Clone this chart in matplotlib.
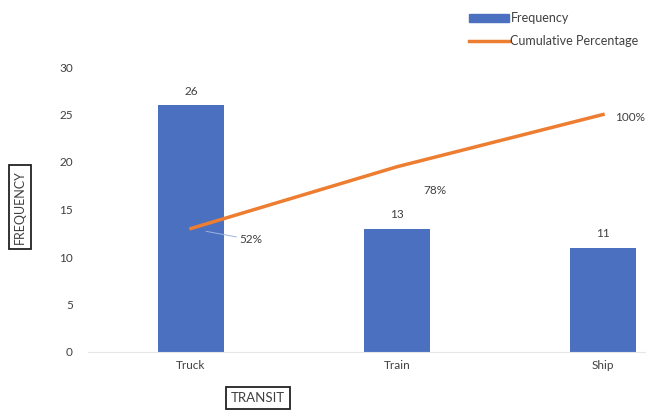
import matplotlib
matplotlib.use("Agg")
import matplotlib.pyplot as plt
from matplotlib.lines import Line2D
from matplotlib.patches import Patch

categories = ["Truck", "Train", "Ship"]
frequency = [26, 13, 11]
cum_percent = [52, 78, 100]
yticks = [0, 5, 10, 15, 20, 25, 30]

blue = "#4a70bf"
orange = "#ed7d31"
txt = "#404040"

plt.rcParams["font.family"] = ["Lato", "DejaVu Sans"]

fig = plt.figure(figsize=(6.46, 4.12), dpi=100)
# axes run past the right edge, the reference is cropped there
ax = fig.add_axes([88 / 646, 60 / 412, 618 / 646, 285 / 412])
x = list(range(len(categories)))
ax.bar(x, frequency, width=0.32, color=blue, zorder=2)
ax.set_xlim(-0.5, 2.5)
ax.set_ylim(0, 30)
ax.set_yticks(yticks)
ax.set_xticks(x)
ax.set_xticklabels(categories)
ax.tick_params(length=0, labelsize=8.5, labelcolor=txt)
ax.tick_params(axis="y", pad=11)
ax.tick_params(axis="x", pad=6)
for s in ["top", "right", "left"]:
    ax.spines[s].set_visible(False)
ax.spines["bottom"].set_color("#e6e6e6")

for xi, v in zip(x, frequency):
    ax.annotate(str(v), (xi, v), xytext=(0, 6), textcoords="offset points",
                ha="center", va="bottom", fontsize=8.5, color=txt)

# cumulative percentage on a hidden 0-120 axis
ax2 = ax.twinx()
ax2.set_ylim(0, 120)
ax2.axis("off")
ax2.plot(x, cum_percent, color=orange, lw=2.5, zorder=3)

label_offsets = [(43, -8), (27, -17), (9, -2)]
for xi, p, off in zip(x, cum_percent, label_offsets):
    ax2.annotate(f"{p}%", (xi, p), xytext=off, textcoords="offset points",
                 ha="left" if xi == 2 else "center", va="center",
                 fontsize=8.5, color=txt,
                 arrowprops=dict(arrowstyle="-", color="#9db3e0", lw=0.7,
                                 shrinkA=0, shrinkB=11) if xi == 0 else None)

box = dict(boxstyle="square,pad=0.4", fc="white", ec="#222222", lw=1.3)
fig.text(20 / 646, 1 - 207 / 412, "FREQUENCY", rotation=90, ha="center",
         va="center", fontsize=9, color=txt, bbox=box)
fig.text(258 / 646, 1 - 398 / 412, "TRANSIT", ha="center", va="center",
         fontsize=9.5, color=txt, bbox=box)

handles = [Patch(color=blue), Line2D([0], [0], color=orange, lw=2.5)]
fig.legend(handles, ["Frequency", "Cumulative Percentage"],
           loc="upper left", bbox_to_anchor=(458 / 646, 1 - 1 / 412),
           frameon=False, fontsize=9, labelcolor=txt, handlelength=3.2,
           handleheight=0.6, handletextpad=0.1, labelspacing=0.85)

fig.savefig("out.png", dpi=100)
